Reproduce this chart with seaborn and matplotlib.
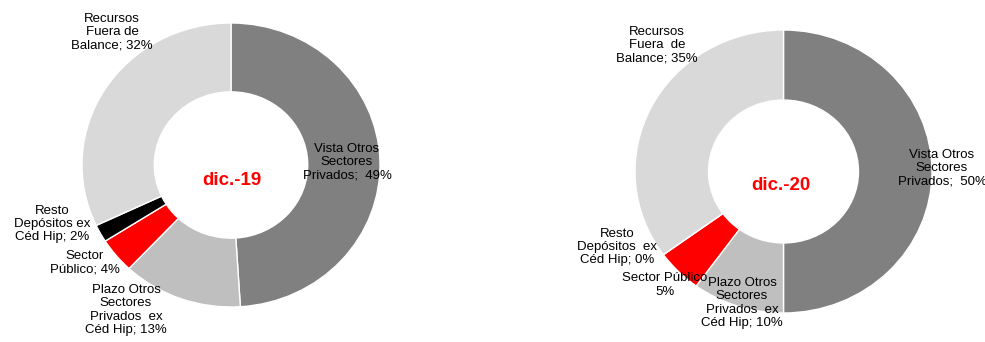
import matplotlib
matplotlib.use("Agg")
import matplotlib.pyplot as plt
import seaborn as sns

sns.set_theme(style="white")
plt.rcParams['font.family'] = ['Liberation Sans', 'DejaVu Sans']

# ---- data ----
categories = ["Vista Otros Sectores Privados",
              "Plazo Otros Sectores Privados ex Céd Hip",
              "Sector Público",
              "Resto Depósitos ex Céd Hip",
              "Recursos Fuera de Balance"]
values_dic19 = [49, 13, 4, 2, 32]
values_dic20 = [50, 10, 5, 0, 35]
titles = ["dic.-19", "dic.-20"]

labels_dic19 = ["Vista Otros\nSectores\nPrivados;  49%",
                "Plazo Otros\nSectores\nPrivados  ex\nCéd Hip; 13%",
                "Sector\nPúblico; 4%",
                "Resto\nDepósitos ex\nCéd Hip; 2%",
                "Recursos\nFuera de\nBalance; 32%"]
labels_dic20 = ["Vista Otros\nSectores\nPrivados;  50%",
                "Plazo Otros\nSectores\nPrivados  ex\nCéd Hip; 10%",
                "Sector Público\n5%",
                "Resto\nDepósitos  ex\nCéd Hip; 0%",
                "Recursos\nFuera  de\nBalance; 35%"]

colors = ["#808080", "#BFBFBF", "#FF0000", "#000000", "#D9D9D9"]

# ---- layout (pixels) ----
W, H = 985, 342
charts = [
    dict(vals=values_dic19, labels=labels_dic19, title=titles[0],
         x0=0, x1=492, cx=231, cy=165, rx=149, ry=142, width=0.485,
         title_pos=(232, 180),
         label_pos=[(347, 162), (126, 310), (85, 263), (52, 224), (112, 32)]),
    dict(vals=values_dic20, labels=labels_dic20, title=titles[1],
         x0=492, x1=985, cx=783.5, cy=171.5, rx=148.5, ry=141.5, width=0.495,
         title_pos=(781, 185),
         label_pos=[(942, 168), (742, 303), (665, 285), (617, 247), (657, 45)]),
]

fig = plt.figure(figsize=(W / 100, H / 100), dpi=100)
fig.patch.set_facecolor("white")

for c in charts:
    ax = fig.add_axes([c["x0"] / W, 0, (c["x1"] - c["x0"]) / W, 1])
    ax.pie(c["vals"], colors=colors, startangle=90, counterclock=False,
           radius=1.0, wedgeprops=dict(width=c["width"], edgecolor="white", linewidth=1.0))
    ax.set_aspect("auto")
    ax.set_xlim((c["x0"] - c["cx"]) / c["rx"], (c["x1"] - c["cx"]) / c["rx"])
    ax.set_ylim(-(H - c["cy"]) / c["ry"], c["cy"] / c["ry"])
    ax.axis("off")

    def to_data(px, py, c=c):
        return (px - c["cx"]) / c["rx"], -(py - c["cy"]) / c["ry"]

    order = [0, 2, 3, 4, 1]
    for i in order:
        lx, ly = to_data(*c["label_pos"][i])
        ax.text(lx, ly, c["labels"][i], ha="center", va="center", fontsize=9.5,
                color="black", linespacing=1.14, zorder=5)
    tx, ty = to_data(*c["title_pos"])
    ax.text(tx, ty, c["title"], ha="center", va="center", fontsize=13.5,
            fontweight="bold", color="#FF0000", zorder=5)

fig.savefig("out.png", dpi=100, facecolor="white")
